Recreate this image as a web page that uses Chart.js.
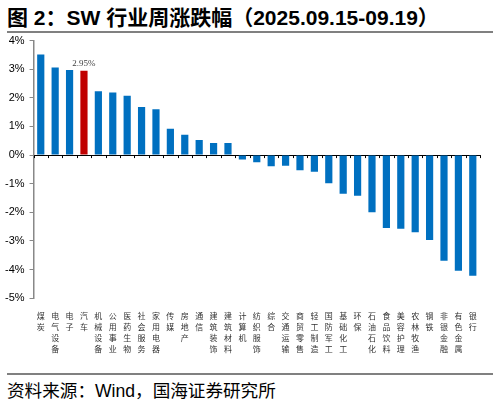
<!DOCTYPE html>
<html>
<head>
<meta charset="utf-8">
<script src="https://cdn.jsdelivr.net/npm/chart.js@4.4.1/dist/chart.umd.min.js"></script>
<style>
  html, body { margin: 0; padding: 0; background: #fff; }
  body { width: 498px; height: 405px; position: relative; overflow: hidden; }
  #title {
    position: absolute; left: 7px; top: 1px; white-space: nowrap;
    font: bold 21px "Liberation Sans", Arial, "Noto Sans CJK SC", sans-serif;
    color: #000;
  }
  .rule { position: absolute; left: 7px; width: 486px; height: 2px; background: #808080; }
  #wrap { position: absolute; left: 0; top: 29px; width: 498px; height: 344px; }
  #source {
    position: absolute; left: 7px; top: 377px; white-space: nowrap;
    font: 17.6px "Liberation Sans", Arial, "Noto Sans CJK SC", sans-serif;
    color: #000;
  }
</style>
</head>
<body>
<div id="title">图 2：SW 行业周涨跌幅（2025.09.15-09.19）</div>
<div class="rule" style="top:31px"></div>
<div id="wrap"><canvas id="chart"></canvas></div>
<div class="rule" style="top:373px"></div>
<div id="source">资料来源：Wind，国海证券研究所</div>

<script>
const categories = ['煤炭', '电气设备', '电子', '汽车', '机械设备', '公用事业', '医药生物', '社会服务',
  '家用电器', '传媒', '房地产', '通信', '建筑装饰', '建筑材料', '计算机', '纺织服饰', '综合',
  '交通运输', '商贸零售', '轻工制造', '国防军工', '基础化工', '环保', '石油石化', '食品饮料',
  '美容护理', '农林牧渔', '钢铁', '非银金融', '有色金属', '银行'];
const weeklyChange = [3.51, 3.06, 2.97, 2.95, 2.23, 2.19, 2.07, 1.68,
  1.60, 0.92, 0.71, 0.53, 0.42, 0.42, -0.15, -0.25, -0.39,
  -0.37, -0.53, -0.58, -0.98, -1.35, -1.42, -2.00, -2.55,
  -2.57, -2.70, -2.97, -3.69, -4.04, -4.22];
const highlight = '汽车';
const yTicks = [-5, -4, -3, -2, -1, 0, 1, 2, 3, 4];

const BLUE = '#0070C0';
const RED = '#C00000';

// small ticks on the zero line between categories, plus the label on the highlighted bar
const zeroAxisTicks = {
  id: 'zeroAxisTicks',
  afterDatasetsDraw(chart) {
    const { ctx, scales: { x, y } } = chart;
    const y0 = y.getPixelForValue(0);
    const step = x.width / categories.length;
    ctx.save();
    ctx.strokeStyle = '#000';
    ctx.lineWidth = 1;
    ctx.beginPath();
    for (let k = 0; k <= categories.length; k++) {
      const px = Math.round(x.left + k * step) + 0.5;
      ctx.moveTo(px, y0);
      ctx.lineTo(px, y0 + 3);
    }
    ctx.stroke();

    const i = categories.indexOf(highlight);
    const bar = chart.getDatasetMeta(0).data[i];
    ctx.fillStyle = '#404040';
    ctx.font = '9px "Liberation Serif", "Times New Roman", serif';
    ctx.textAlign = 'center';
    ctx.textBaseline = 'bottom';
    ctx.fillText(weeklyChange[i].toFixed(2) + '%', bar.x, bar.y - 3);
    ctx.restore();
  }
};

new Chart(document.getElementById('chart'), {
  type: 'bar',
  data: {
    labels: categories.map(c => c.split('')),
    datasets: [{
      data: weeklyChange,
      backgroundColor: categories.map(c => c === highlight ? RED : BLUE),
      barPercentage: 0.5,
      categoryPercentage: 1.0
    }]
  },
  options: {
    responsive: true,
    maintainAspectRatio: false,
    animation: false,
    layout: { padding: { top: 2, right: 18, bottom: 14, left: 0 } },
    plugins: { legend: { display: false }, tooltip: { enabled: false } },
    scales: {
      x: {
        grid: { display: false },
        border: { display: false },
        ticks: {
          autoSkip: false, maxRotation: 0, minRotation: 0, padding: 4,
          color: '#333',
          font: { family: '"Noto Sans CJK SC", sans-serif', size: 8, lineHeight: 1.4 }
        }
      },
      y: {
        min: -5, max: 4,
        afterBuildTicks(axis) { axis.ticks = yTicks.map(v => ({ value: v })); },
        border: { color: '#888', width: 1.5 },
        grid: {
          color: c => c.tick && c.tick.value === 0 ? '#000' : 'rgba(0,0,0,0)',
          tickColor: '#888',
          tickLength: 4,
          lineWidth: 1
        },
        ticks: {
          padding: 5,
          color: '#000',
          font: { family: '"Liberation Sans", Arial, sans-serif', size: 11 },
          callback: v => v + '%'
        }
      }
    }
  },
  plugins: [zeroAxisTicks]
});
</script>
</body>
</html>
